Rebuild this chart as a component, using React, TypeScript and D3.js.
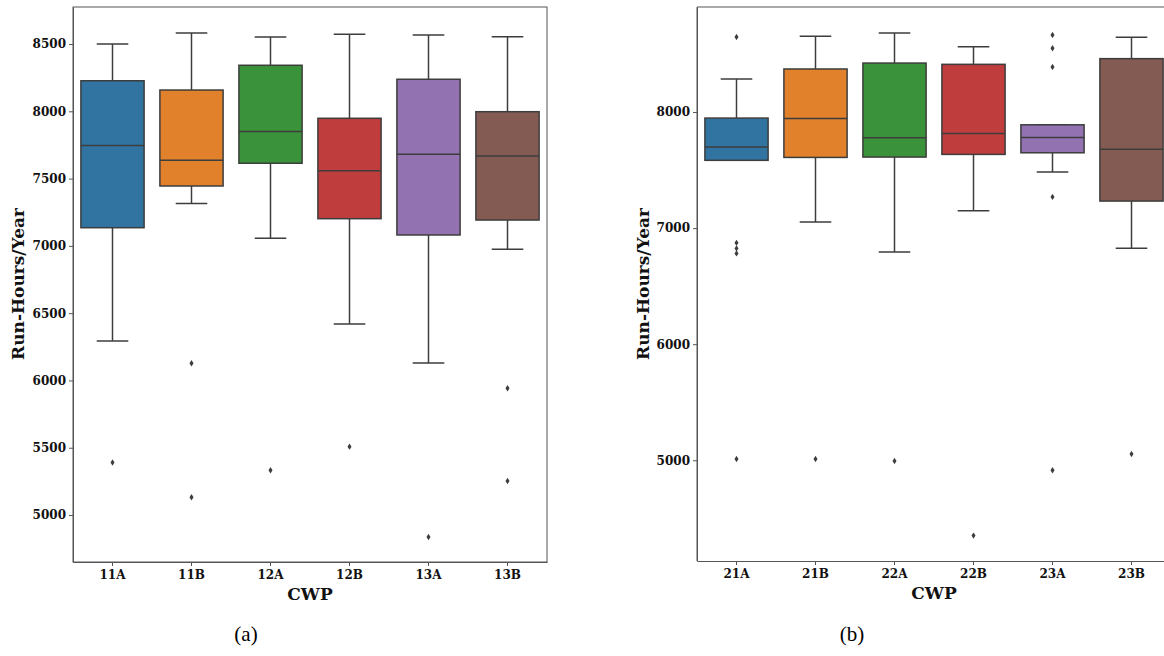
import React, { useEffect, useRef } from 'react';
import * as d3 from 'd3';

// panel (a)
const catsA = ['11A', '11B', '12A', '12B', '13A', '13B'];
const whiskLoA = [6294, 7314, 7057, 6420, 6130, 6975];
const q1A = [7135, 7445, 7614, 7202, 7081, 7192];
const medA = [7745, 7636, 7849, 7559, 7681, 7668];
const q3A = [8227, 8158, 8342, 7948, 8238, 7997];
const whiskHiA = [8500, 8582, 8552, 8573, 8567, 8554];
const outliersA = [[5390], [6128, 5132], [5333], [5508], [4837], [5942, 5253]];
const ticksA = [5000, 5500, 6000, 6500, 7000, 7500, 8000, 8500];

// panel (b)
const catsB = ['21A', '21B', '22A', '22B', '23A', '23B'];
const whiskLoB = [7584, 7052, 6795, 7149, 7483, 6826];
const q1B = [7584, 7609, 7612, 7635, 7649, 7233];
const medB = [7698, 7945, 7778, 7816, 7781, 7680];
const q3B = [7948, 8371, 8422, 8411, 7890, 8460];
const whiskHiB = [8284, 8653, 8681, 8563, 7890, 8645];
const outliersB = [[8647, 6873, 6825, 6782, 5011], [5011], [4994], [4351], [8664, 8549, 8388, 7269, 4914], [5054]];
const ticksB = [5000, 6000, 7000, 8000];

const colors = ['#3274a1', '#e1812c', '#3a923a', '#c03d3e', '#9372b2', '#845b53'];
const edge = '#3d3d3d';
const slab = '"DejaVu Serif", serif';

function drawPanel(svg, opts) {
    const { left, right, top, bottom, domain, cats, lo, q1, med, q3, hi, outliers, ticks, frame } = opts;

    const x = d3.scaleBand().domain(cats).range([left, right]).padding(0);
    const y = d3.scaleLinear().domain(domain).range([bottom, top]);
    const bw = x.bandwidth() * 0.8;

    const g = svg.append('g');

    // frame
    if (frame) {
        g.append('rect')
            .attr('x', left).attr('y', top)
            .attr('width', right - left).attr('height', bottom - top)
            .attr('fill', 'none').attr('stroke', '#555').attr('stroke-width', 1);
    } else {
        g.append('path')
            .attr('d', `M${left},${bottom}V${top}H${right}`)
            .attr('fill', 'none').attr('stroke', '#555').attr('stroke-width', 1);
    }

    const yAxis = d3.axisLeft(y).tickValues(ticks).tickSize(4).tickSizeOuter(0).tickPadding(3).tickFormat(d3.format('d'));
    const ya = g.append('g').attr('transform', `translate(${left},0)`).call(yAxis);
    ya.select('.domain').attr('stroke', '#555');
    ya.selectAll('.tick line').attr('stroke', '#555');
    ya.selectAll('text').style('font-family', slab).style('font-weight', 'bold').style('font-size', '12px').attr('fill', '#111');

    const xAxis = d3.axisBottom(x).tickSize(4).tickSizeOuter(0).tickPadding(4);
    const xa = g.append('g').attr('transform', `translate(0,${bottom})`).call(xAxis);
    xa.select('.domain').attr('stroke', '#555');
    xa.selectAll('.tick line').attr('stroke', '#555');
    xa.selectAll('text').style('font-family', slab).style('font-weight', 'bold').style('font-size', '12px').attr('fill', '#111');

    const boxes = g.append('g')
        .selectAll('g')
        .data(cats)
        .join('g');

    const cx = d => x(d) + x.bandwidth() / 2;

    // whiskers
    boxes.append('line')
        .attr('x1', cx).attr('x2', cx)
        .attr('y1', (d, i) => y(hi[i])).attr('y2', (d, i) => y(q3[i]))
        .attr('stroke', edge).attr('stroke-width', 1.5);
    boxes.append('line')
        .attr('x1', cx).attr('x2', cx)
        .attr('y1', (d, i) => y(q1[i])).attr('y2', (d, i) => y(lo[i]))
        .attr('stroke', edge).attr('stroke-width', 1.5);
    // caps
    boxes.append('line')
        .attr('x1', d => cx(d) - bw / 4).attr('x2', d => cx(d) + bw / 4)
        .attr('y1', (d, i) => y(hi[i])).attr('y2', (d, i) => y(hi[i]))
        .attr('stroke', edge).attr('stroke-width', 1.5);
    boxes.append('line')
        .attr('x1', d => cx(d) - bw / 4).attr('x2', d => cx(d) + bw / 4)
        .attr('y1', (d, i) => y(lo[i])).attr('y2', (d, i) => y(lo[i]))
        .attr('stroke', edge).attr('stroke-width', 1.5);

    boxes.append('rect')
        .attr('x', d => cx(d) - bw / 2)
        .attr('width', bw)
        .attr('y', (d, i) => y(q3[i]))
        .attr('height', (d, i) => y(q1[i]) - y(q3[i]))
        .attr('fill', (d, i) => colors[i])
        .attr('stroke', edge).attr('stroke-width', 1.5);

    boxes.append('line')
        .attr('x1', d => cx(d) - bw / 2).attr('x2', d => cx(d) + bw / 2)
        .attr('y1', (d, i) => y(med[i])).attr('y2', (d, i) => y(med[i]))
        .attr('stroke', edge).attr('stroke-width', 1.5);

    // outliers (diamonds)
    const pts = cats.flatMap((c, i) => outliers[i].map(v => ({ c, v })));
    g.append('g')
        .selectAll('path')
        .data(pts)
        .join('path')
        .attr('d', 'M0,-3.2L2,0L0,3.2L-2,0Z')
        .attr('transform', d => `translate(${cx(d.c)},${y(d.v)})`)
        .attr('fill', '#3d3d3d');

    // axis label
    g.append('text')
        .attr('x', (left + right) / 2).attr('y', bottom + 38)
        .attr('text-anchor', 'middle')
        .style('font-family', slab).style('font-weight', 'bold').style('font-size', '17px')
        .attr('fill', '#111')
        .text('CWP');
}

const App = () => {
    const ref = useRef(null);

    useEffect(() => {
        const svg = d3.select(ref.current);
        svg.selectAll('*').remove();

        drawPanel(svg, {
            left: 73, right: 547, top: 7, bottom: 562,
            domain: [4651, 8775],
            cats: catsA, lo: whiskLoA, q1: q1A, med: medA, q3: q3A, hi: whiskHiA,
            outliers: outliersA, ticks: ticksA, frame: true,
        });
        drawPanel(svg, {
            left: 697, right: 1171, top: 7, bottom: 561,
            domain: [4132, 8905],
            cats: catsB, lo: whiskLoB, q1: q1B, med: medB, q3: q3B, hi: whiskHiB,
            outliers: outliersB, ticks: ticksB, frame: false,
        });

        const ylab = [[18, 284], [643, 284]];
        ylab.forEach(([tx, ty]) => {
            svg.append('text')
                .attr('transform', `translate(${tx},${ty}) rotate(-90)`)
                .attr('text-anchor', 'middle')
                .attr('dy', '0.35em')
                .style('font-family', slab).style('font-weight', 'bold').style('font-size', '17px')
                .attr('fill', '#111')
                .text('Run-Hours/Year');
        });

        [['(a)', 246], ['(b)', 852]].forEach(([t, tx]) => {
            svg.append('text')
                .attr('x', tx).attr('y', 641)
                .attr('text-anchor', 'middle')
                .style('font-family', '"Liberation Serif", serif').style('font-size', '21px')
                .attr('fill', '#000')
                .text(t);
        });
    }, []);

    return (
        <svg ref={ref} width={1164} height={656}
            style={{ position: 'absolute', left: 0, top: 0, background: '#fff', overflow: 'hidden' }} />
    );
};

export default App;
